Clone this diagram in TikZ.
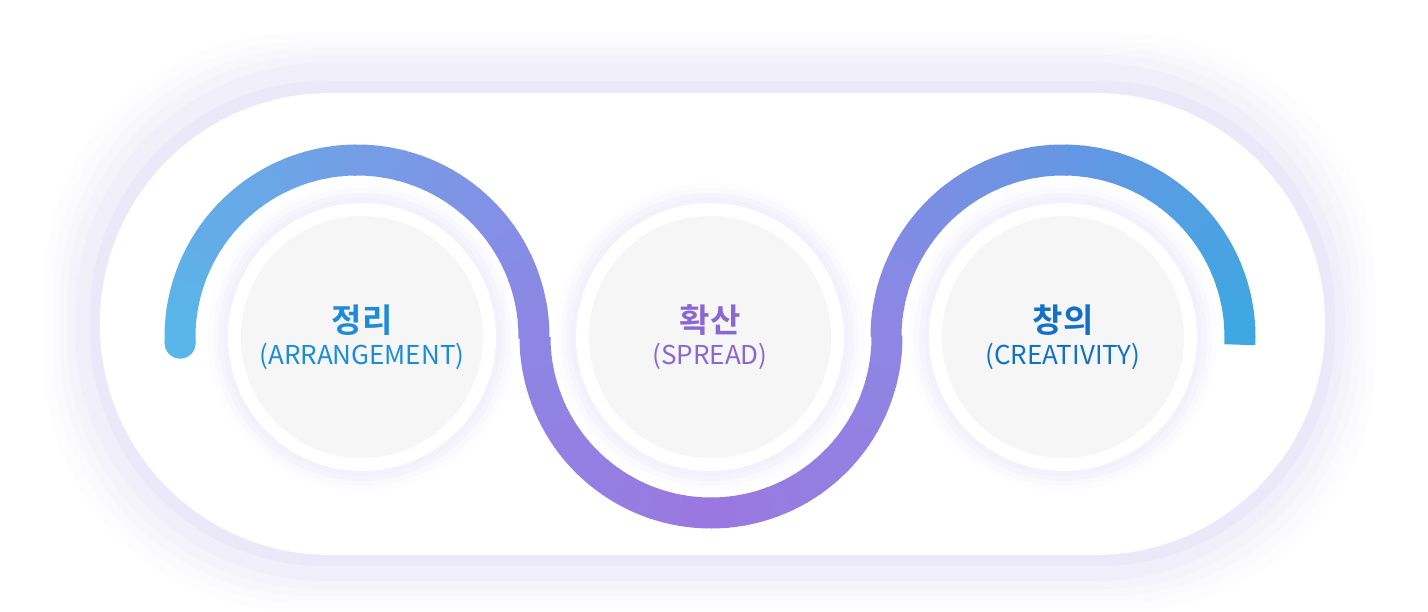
\documentclass[tikz,border=0pt]{standalone}
\usepackage{fontspec}
\setmainfont{Noto Sans CJK KR}
\newfontfamily\krb{Noto Sans CJK KR Bold}
\definecolor{cA}{HTML}{58B6E8}
\definecolor{cB}{HTML}{8E86E4}
\definecolor{cC}{HTML}{9A78E0}
\definecolor{cD}{HTML}{6E8AE2}
\definecolor{cE}{HTML}{3DA8E2}
\definecolor{tBlue}{HTML}{1C8CD8}
\definecolor{tPur}{HTML}{8A68D4}
\definecolor{tDark}{HTML}{1270C6}
\definecolor{glow}{HTML}{D8D2F6}
\tikzset{seg/.style={line width=31pt,line cap=butt},
 lbl/.style={align=center,font=\fontsize{26}{32}\selectfont}}
\begin{document}
\begin{tikzpicture}[x=1pt,y=1pt]
\useasboundingbox (0,0) rectangle (1428,611);
\fill[white] (0,0) rectangle (1428,611);
% outer glow pills
\foreach \k/\o in {30/0.04,22/0.05,15/0.06,8/0.08,0/0.12}{
 \fill[glow,opacity=\o,rounded corners=250] (75-\k,30-\k) rectangle (1345+\k,548+\k);}
\fill[glow,opacity=0.22,rounded corners=235] (90,45) rectangle (1335,530);
\fill[white,rounded corners=230] (100,56) rectangle (1325,518);
% circle nodes with glow
\foreach \cx/\nm in {362/a,710/b,1063/c}{
 \foreach \k/\o in {20/0.05,15/0.06,10/0.08,5/0.1}{\fill[glow,opacity=\o] (\cx,274) circle (134+\k);}
 \fill[white] (\cx,274) circle (134);
 \fill[gray!7] (\cx,274) circle (121);
 \node (\nm) at (\cx,274) {};
}
% wave
\foreach \i in {0,...,35}{
 \pgfmathsetmacro\p{100*\i/35}
 \pgfmathsetmacro\aa{182-\i*182/36}\pgfmathsetmacro\ab{182-(\i+1)*182/36-0.5}
 \draw[seg,draw=cB!\p!cA] (357,274)++(\aa:177) arc (\aa:\ab:177);}
\foreach \i in {0,...,35}{
 \pgfmathsetmacro\p{100*abs(\i-17.5)/17.5}
 \pgfmathsetmacro\aa{180+\i*5}\pgfmathsetmacro\ab{180+(\i+1)*5+0.5}
 \draw[seg,draw=cB!\p!cC] (711,274)++(\aa:176) arc (\aa:\ab:176);}
\foreach \i in {0,...,35}{
 \pgfmathsetmacro\p{100*\i/35}
 \pgfmathsetmacro\aa{180-\i*182/36}\pgfmathsetmacro\ab{180-(\i+1)*182/36-0.5}
 \draw[seg,draw=cE!\p!cB] (1063,274)++(\aa:177) arc (\aa:\ab:177);}
\fill[cA] (357,274)++(182:177) circle (15.5);
% labels
\node[lbl,text=tBlue] at (a) {{\krb\fontsize{33}{36}\selectfont 정리}\\(ARRANGEMENT)};
\node[lbl,text=tPur] at (b) {{\krb\fontsize{33}{36}\selectfont 확산}\\(SPREAD)};
\node[lbl,text=tDark] at (c) {{\krb\fontsize{33}{36}\selectfont 창의}\\(CREATIVITY)};
\end{tikzpicture}
\end{document}
